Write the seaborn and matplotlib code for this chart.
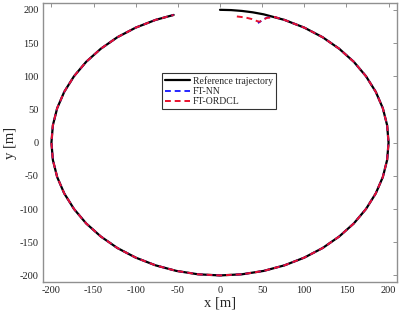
import numpy as np
import pandas as pd
import matplotlib
matplotlib.use("Agg")
import matplotlib.pyplot as plt
import seaborn as sns

# Reference trajectory (clockwise from the top)
ref_x = [0, 13.1, 26.1, 39.0, 51.8, 76.5, 100, 121.8, 141.4, 158.7, 173.2, 184.8, 193.2, 198.3,
         200, 198.3, 193.2, 184.8, 173.2, 158.7, 141.4, 121.8, 100, 76.5, 51.8, 26.1,
         0, -26.1, -51.8, -76.5, -100, -121.8, -141.4, -158.7, -173.2, -184.8, -193.2, -198.3,
         -200, -198.3, -193.2, -184.8, -173.2, -158.7, -141.4, -121.8, -100, -76.5, -55]
ref_y = [200, 199.6, 198.3, 196.2, 193.2, 184.8, 173.2, 158.7, 141.4, 121.8, 100, 76.5, 51.8, 26.1,
         0, -26.1, -51.8, -76.5, -100, -121.8, -141.4, -158.7, -173.2, -184.8, -193.2, -198.3,
         -200, -198.3, -193.2, -184.8, -173.2, -158.7, -141.4, -121.8, -100, -76.5, -51.8, -26.1,
         0, 26.1, 51.8, 76.5, 100, 121.8, 141.4, 158.7, 173.2, 184.8, 192.3]

# start-up transients of the two controllers (both end where they join the circle)
nn_start_x = [45, 47, 51, 56, 65]
nn_start_y = [180, 181.5, 185.5, 188.3, 189.1]
ordcl_start_x = [20, 30, 38, 44, 47, 51, 56, 65]
ordcl_start_y = [190, 188.5, 186, 183, 182, 185, 188, 189.1]
join_idx = 5  # first reference point after the transients join

sns.set_theme(style="white")
plt.rcParams['font.family'] = ['Liberation Serif', 'DejaVu Serif']
plt.rcParams['axes.unicode_minus'] = False

ref = pd.DataFrame({"x": ref_x, "y": ref_y})
nn = pd.DataFrame({"x": nn_start_x + ref_x[join_idx:], "y": nn_start_y + ref_y[join_idx:]})
ordcl = pd.DataFrame({"x": ordcl_start_x + ref_x[join_idx:], "y": ordcl_start_y + ref_y[join_idx:]})

fig = plt.figure(figsize=(4, 3.18), dpi=100)
ax = fig.add_axes([0.1075, 0.113, 0.885, 0.877])
ax.set_xlim(-210, 210)
ax.set_ylim(-210, 210)

sns.lineplot(data=ref, x="x", y="y", sort=False, estimator=None, color="black",
             linewidth=1.6, ax=ax, label="Reference trajectory")
sns.lineplot(data=nn, x="x", y="y", sort=False, estimator=None, color="#0000ff",
             linewidth=1.2, ax=ax, label="FT-NN")
sns.lineplot(data=ordcl, x="x", y="y", sort=False, estimator=None, color="#e8112d",
             linewidth=1.4, ax=ax, label="FT-ORDCL")
ax.set_xlim(-210, 210)
ax.set_ylim(-210, 210)


def path_len_pt(xs, ys):
    pts = ax.transData.transform(np.column_stack([xs, ys]))
    return np.sum(np.hypot(*np.diff(pts, axis=0).T)) * 72 / fig.dpi


# shift the blue dashes so they lie under the red ones once both are on the circle
shift = path_len_pt(ordcl_start_x, ordcl_start_y) - path_len_pt(nn_start_x, nn_start_y)
ax.lines[1].set_linestyle(((shift % 7.0) / 1.2, (3.5, 2.333)))
ax.lines[2].set_linestyle((0, (3, 2)))

ax.set_xticks([-200, -150, -100, -50, 0, 50, 100, 150, 200])
ax.set_yticks([-200, -150, -100, -50, 0, 50, 100, 150, 200])
ax.tick_params(direction="in", length=3, width=0.6, colors="#808080",
               labelcolor="#222222", labelsize=7.5, top=True, right=True, pad=3)
for sp in ax.spines.values():
    sp.set_color("#909090")
    sp.set_linewidth(1.0)
ax.set_xlabel("x [m]", fontsize=10.5, labelpad=1)
ax.set_ylabel("y [m]", fontsize=10.5, labelpad=2)

leg = ax.legend(loc="upper left", bbox_to_anchor=(0.335, 0.75), fontsize=7,
                frameon=True, fancybox=False, handlelength=2.6, handletextpad=0.3,
                borderpad=0.3, labelspacing=0.15, borderaxespad=0)
leg.get_frame().set_edgecolor("black")
leg.get_frame().set_linewidth(0.8)
leg.get_lines()[1].set_linestyle((0, (3.5, 2.333)))

fig.savefig("out.png", dpi=100)
